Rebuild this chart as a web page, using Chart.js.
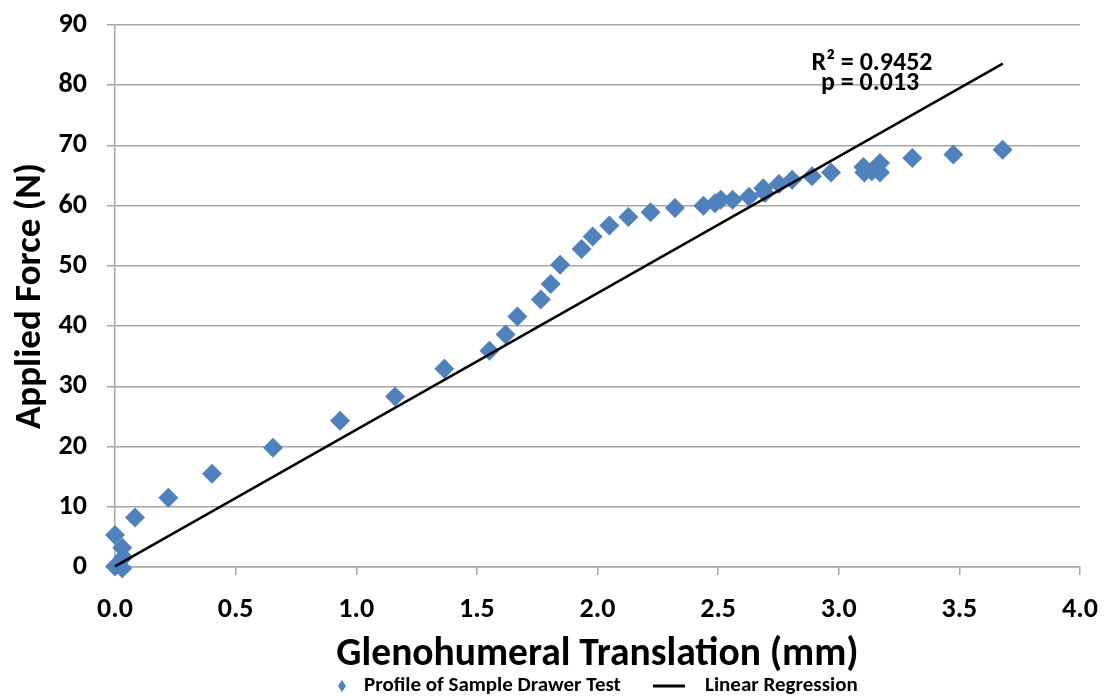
<!DOCTYPE html>
<html>
<head>
<meta charset="utf-8">
<script src="https://cdn.jsdelivr.net/npm/chart.js@4/dist/chart.umd.min.js"></script>
<style>
  html, body { margin: 0; padding: 0; background: #fff; }
  #wrap { width: 1107px; height: 698px; }
</style>
</head>
<body>
<div id="wrap"><canvas id="forceChart" width="1107" height="698"></canvas></div>
<script>
// Drawer test profile (translation in mm, force in N)
const translation = [0.00, 0.03, 0.035, 0.03, 0.00, 0.083, 0.221, 0.402, 0.655, 0.933, 1.161, 1.365,
    1.552, 1.619, 1.668, 1.765, 1.806, 1.845, 1.934, 1.980, 2.049, 2.128, 2.220, 2.321,
    2.439, 2.487, 2.511, 2.560, 2.628, 2.687, 2.694, 2.752, 2.807, 2.889, 2.968,
    3.102, 3.106, 3.137, 3.171, 3.171, 3.305, 3.475, 3.679];
const force = [0.1, -0.2, 1.6, 3.2, 5.3, 8.2, 11.5, 15.5, 19.8, 24.3, 28.3, 32.9,
    35.9, 38.6, 41.6, 44.4, 47.0, 50.2, 52.8, 54.9, 56.7, 58.1, 58.9, 59.6,
    60.0, 60.4, 61.0, 61.0, 61.5, 62.9, 62.1, 63.6, 64.3, 64.9, 65.5,
    66.4, 65.5, 65.7, 67.1, 65.5, 67.9, 68.5, 69.3];

// regression line end points
const regX = [0, 3.68];
const regY = [0.1, 83.6];

const xTicks = [0, 0.5, 1, 1.5, 2, 2.5, 3, 3.5, 4];
const yTicks = [0, 10, 20, 30, 40, 50, 60, 70, 80, 90];
const statLines = ['R\u00B2 = 0.9452', 'p = 0.013'];
const statPos = [[3.138, 83.6], [3.13, 80.3]];

const FONT = "Carlito, 'Liberation Sans Narrow', 'Open Sans', sans-serif";
const BLUE = '#4f81bd';
const GRID = '#a6a6a6';

// R² / p text next to the line
const statsText = {
    id: 'statsText',
    afterDatasetsDraw(chart) {
        const { ctx, scales } = chart;
        ctx.save();
        ctx.fillStyle = '#000';
        ctx.font = 'bold 26px ' + FONT;
        ctx.textAlign = 'center';
        ctx.textBaseline = 'middle';
        statLines.forEach((txt, i) => {
            ctx.fillText(txt, scales.x.getPixelForValue(statPos[i][0]), scales.y.getPixelForValue(statPos[i][1]));
        });
        ctx.restore();
    }
};

// legend row under the axis title
const bottomLegend = {
    id: 'bottomLegend',
    afterDraw(chart) {
        const ctx = chart.ctx;
        const ds = chart.data.datasets;
        const y = 686;
        ctx.save();
        ctx.font = 'bold 21px ' + FONT;
        ctx.textBaseline = 'middle';
        // diamond marker
        ctx.fillStyle = BLUE;
        ctx.beginPath();
        ctx.moveTo(342, y - 6); ctx.lineTo(346, y); ctx.lineTo(342, y + 6); ctx.lineTo(338, y);
        ctx.closePath(); ctx.fill();
        ctx.fillStyle = '#000';
        ctx.fillText(ds[0].label, 364, y);
        // line marker
        ctx.fillRect(653, y - 1.5, 32, 3);
        ctx.fillText(ds[1].label, 705, y);
        ctx.restore();
    }
};

const points = translation.map((t, i) => ({ x: t, y: force[i] }));
const regression = regX.map((t, i) => ({ x: t, y: regY[i] }));

new Chart(document.getElementById('forceChart'), {
    type: 'scatter',
    data: {
        datasets: [{
            label: 'Profile of Sample Drawer Test',
            data: points,
            pointStyle: 'rectRot',
            pointRadius: 10,
            pointHoverRadius: 10,
            backgroundColor: BLUE,
            borderColor: BLUE,
            borderWidth: 0,
            clip: false,
            order: 2
        }, {
            label: 'Linear Regression',
            type: 'line',
            data: regression,
            borderColor: '#000',
            borderWidth: 2.5,
            pointRadius: 0,
            fill: false,
            clip: false,
            order: 1
        }]
    },
    options: {
        responsive: false,
        animation: false,
        layout: { padding: { top: 25, right: 27, bottom: 0, left: 0 } },
        scales: {
            x: {
                type: 'linear',
                min: 0, max: 4,
                afterBuildTicks: s => { s.ticks = xTicks.map(v => ({ value: v })); },
                afterFit: s => { s.height = 131; s.paddingLeft = 0; s.paddingRight = 0; },
                border: { display: true, color: GRID, width: 1.5 },
                grid: { drawOnChartArea: false, drawTicks: true, tickLength: 8, color: GRID, lineWidth: 1.5 },
                ticks: {
                    color: '#000',
                    padding: 18,
                    maxRotation: 0,
                    font: { family: FONT, size: 28, weight: 'bold' },
                    callback: v => v.toFixed(1)
                },
                title: {
                    display: true,
                    text: 'Glenohumeral Translation (mm)',
                    color: '#000',
                    font: { family: FONT, size: 39.5, weight: 'bold', lineHeight: 1 },
                    padding: { top: 0, bottom: 23 }
                }
            },
            y: {
                min: 0, max: 90,
                afterBuildTicks: s => { s.ticks = yTicks.map(v => ({ value: v })); },
                afterFit: s => { s.width = 115; s.paddingTop = 0; s.paddingBottom = 0; },
                border: { display: true, color: GRID, width: 1.5 },
                grid: { drawTicks: true, tickLength: 8, color: GRID, lineWidth: 1.5 },
                ticks: {
                    color: '#000',
                    padding: 20,
                    font: { family: FONT, size: 28, weight: 'bold' }
                },
                title: {
                    display: true,
                    text: 'Applied Force (N)',
                    color: '#000',
                    font: { family: FONT, size: 37, weight: 'bold', lineHeight: 1 },
                    padding: { top: 12, bottom: 0 }
                }
            }
        },
        plugins: {
            legend: { display: false },
            tooltip: { enabled: false }
        }
    },
    plugins: [statsText, bottomLegend]
});
</script>
</body>
</html>
